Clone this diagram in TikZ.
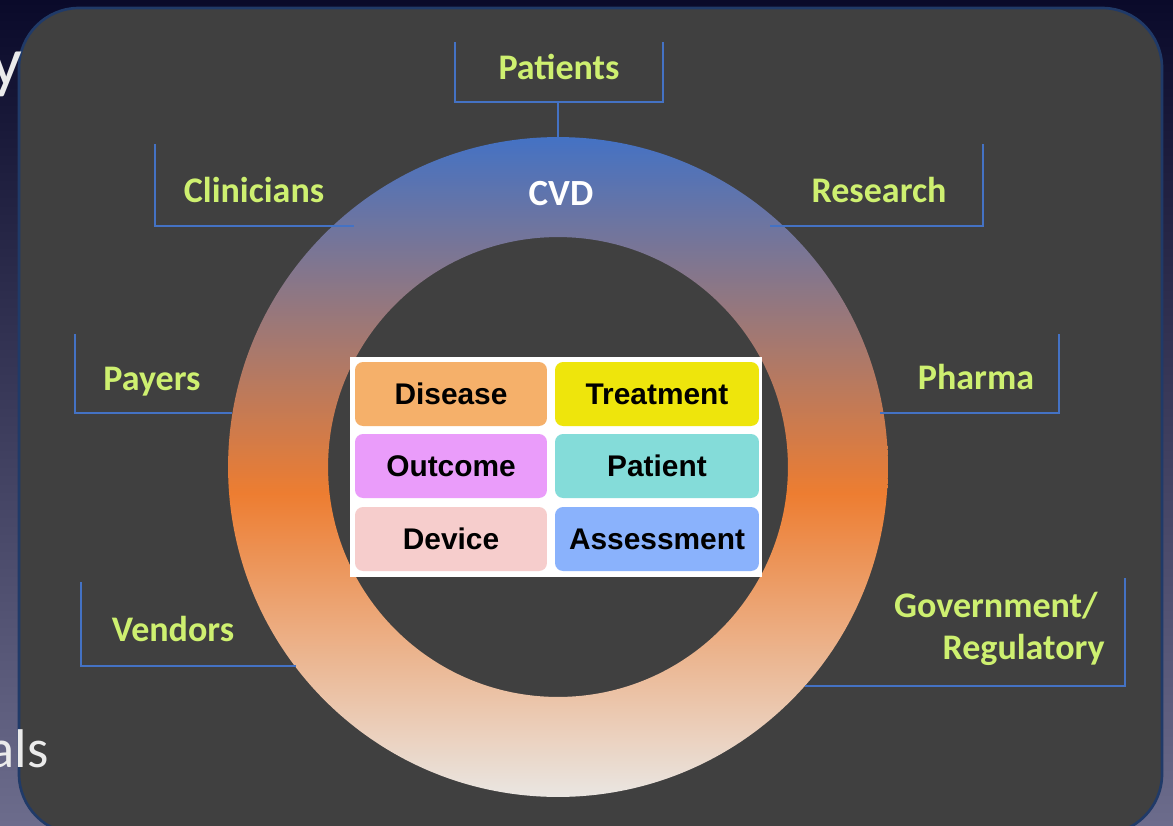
\documentclass[tikz,border=0pt]{standalone}
\usepackage{fontspec}
\setmainfont{Carlito}
\newfontfamily\cellfont{Liberation Sans}
\usetikzlibrary{positioning}

\definecolor{slidetop}{RGB}{10,10,42}
\definecolor{slidebot}{RGB}{108,108,140}
\definecolor{panel}{RGB}{64,64,64}
\definecolor{panelrim}{RGB}{32,58,104}
\definecolor{linkblue}{RGB}{68,114,196}
\definecolor{stakegreen}{RGB}{206,240,112}
\definecolor{ringtop}{RGB}{68,114,196}
\definecolor{ringmid}{RGB}{237,125,49}
\definecolor{ringbot}{RGB}{234,230,226}
\definecolor{cdisease}{RGB}{245,176,106}
\definecolor{ctreat}{RGB}{238,229,12}
\definecolor{coutcome}{RGB}{234,156,250}
\definecolor{cpatient}{RGB}{132,220,217}
\definecolor{cdevice}{RGB}{246,205,204}
\definecolor{cassess}{RGB}{138,178,252}

% ring colour: blue on top, orange in the middle, pale at the bottom
\pgfdeclareverticalshading{cvdring}{100bp}{color(0bp)=(ringbot); color(25bp)=(ringbot); color(48bp)=(ringmid); color(75bp)=(ringtop); color(100bp)=(ringtop)}

\tikzset{
  stake/.style={font=\fontsize{20.5}{24}\selectfont\bfseries, text=stakegreen, inner sep=0pt, anchor=base},
  bracket/.style={draw=linkblue, line width=1.2pt},
  slidetext/.style={anchor=base east, text=white!92!black, inner sep=0pt},
  cell/.style={rounded corners=0.16cm, minimum height=1.28cm, inner sep=0pt,
    font=\cellfont\fontsize{17}{20}\selectfont\bfseries, text=black,
    text height=12.2pt, text depth=0pt}
}

\begin{document}
\begin{tikzpicture}[x=0.02cm, y=-0.02cm]
    \useasboundingbox (0,0) rectangle (1173,825);

    % slide behind the panel
    \shade[top color=slidetop, bottom color=slidebot] (0,0) rectangle (1173,825);

    % dark panel
    \draw[fill=panel, draw=panelrim, line width=1.5pt, rounded corners=1.2cm] (19,8) rectangle (1162,834);

    % bits of slide text showing past the panel edge
    \node[slidetext, font=\fontsize{40}{44}\selectfont] (ttl) at (23,85) {y};
    \node[slidetext, font=\fontsize{31}{34}\selectfont] (bul) at (49,767) {als};

    % CVD ring
    \coordinate (c) at (558,467);
    \shade[shading=cvdring, even odd rule] (c) circle (6.6cm) (c) circle (4.6cm);
    \coordinate (ringtop) at (558,138);

    % stakeholder brackets
    \draw[bracket] (455,42) |- (663,102) -- (663,42);
    \draw[bracket] (558,102) -- (ringtop);
    \draw[bracket] (155,144) |- (354,226);
    \draw[bracket] (983,144) |- (770,226);
    \draw[bracket] (75,334) |- (232,413);
    \draw[bracket] (1059,334) |- (880,413);
    \draw[bracket] (81,582) |- (296,666);
    \draw[bracket] (1125,578) |- (805,686);

    % stakeholders
    \node[stake] (patients) at (559,79) {Patients};
    \node[stake] (clinicians) at (254,202) {Clinicians};
    \node[stake] (research) at (879,202) {Research};
    \node[stake] (payers) at (152,390) {Payers};
    \node[stake] (pharma) at (976,389) {Pharma};
    \node[stake] (vendors) at (173,641) {Vendors};
    \node[stake, anchor=base east] (gov) at (1098,617) {Government/};
    \node[stake, anchor=base east] (reg) at (1105,659) {Regulatory};

    \node[text=white, inner sep=0pt, anchor=base, font=\fontsize{21}{24}\selectfont\bfseries] (cvd) at (561,205) {CVD};

    % data domains
    \fill[white] (350,357) rectangle (762,577);
    \node[cell, fill=cdisease, minimum width=3.84cm] (disease) at (451,394) {Disease};
    \node[cell, fill=ctreat, minimum width=4.08cm] (treatment) at (657,394) {Treatment};
    \node[cell, fill=coutcome, minimum width=3.84cm] (outcome) at (451,466) {Outcome};
    \node[cell, fill=cpatient, minimum width=4.08cm] (patient) at (657,466) {Patient};
    \node[cell, fill=cdevice, minimum width=3.84cm] (device) at (451,539) {Device};
    \node[cell, fill=cassess, minimum width=4.08cm] (assess) at (657,539) {Assessment};
\end{tikzpicture}
\end{document}
